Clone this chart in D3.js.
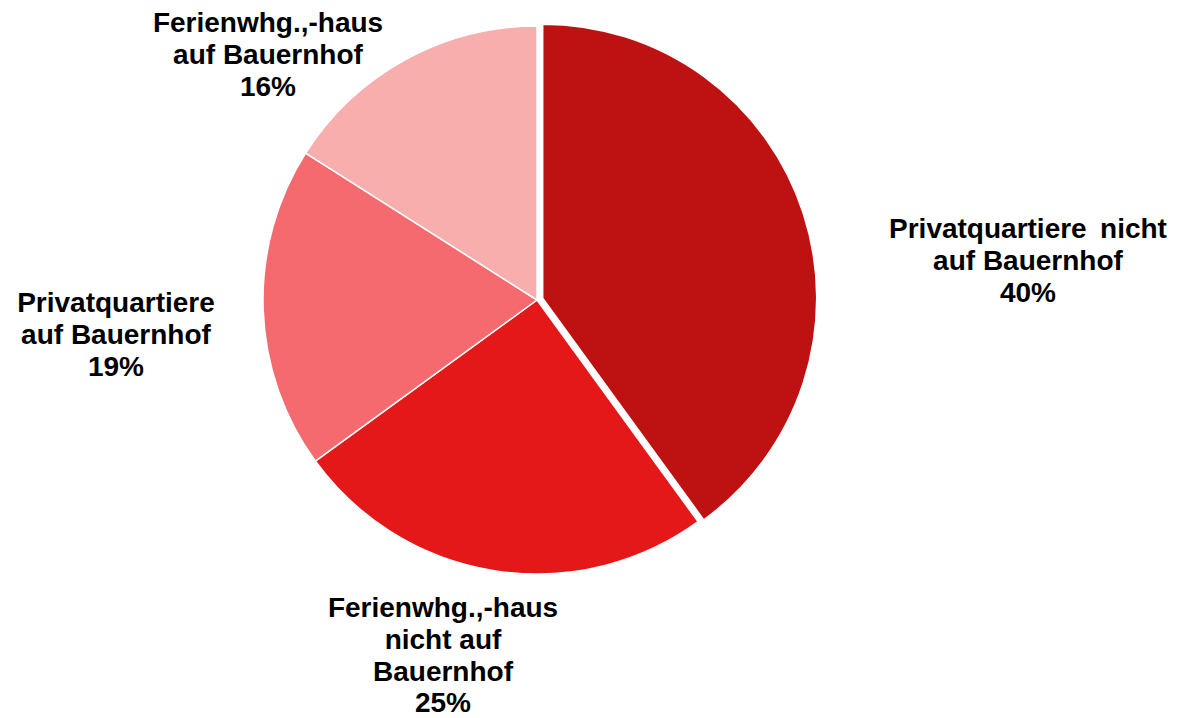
<!DOCTYPE html>
<html>
<head>
<meta charset="utf-8">
<script src="https://cdn.jsdelivr.net/npm/d3@7/dist/d3.min.js"></script>
<style>
  html, body { margin: 0; padding: 0; background: #ffffff; }
  svg { display: block; }
  .lbl { font-family: "Liberation Sans", Arial, sans-serif; font-weight: bold; font-size: 28px; fill: #000; }
</style>
</head>
<body>
<svg id="chart" width="1178" height="718"></svg>
<script>
// Accommodation types and their shares (percent)
const categories = [
  ["Privatquartiere\u2009 nicht", "auf Bauernhof"],
  ["Ferienwhg.,-haus", "nicht auf", "Bauernhof"],
  ["Privatquartiere", "auf Bauernhof"],
  ["Ferienwhg.,-haus", "auf Bauernhof"]
];
const shares = [40, 25, 19, 16];
const sliceColors = ["#BE1111", "#E41818", "#F46A6E", "#F7AEAD"];
// Label anchor (line centre x, first baseline y) for each slice
const labelX = [1028, 443, 116, 268];
const labelY = [238, 617, 312, 32];

const width = 1178, height = 718;
const cx = 537, cy = 300, radius = 274;
const explode = [6, 0, 0, 0];
const lineStep = 31.8;

const svg = d3.select("#chart");
const g = svg.append("g").attr("transform", `translate(${cx},${cy})`);

const pie = d3.pie().sort(null).value(d => d);
const arcs = pie(shares);
const arc = d3.arc().innerRadius(0).outerRadius(radius);

g.selectAll("path.slice")
  .data(arcs)
  .join("path")
  .attr("class", "slice")
  .attr("d", arc)
  .attr("fill", (d, i) => sliceColors[i])
  .attr("stroke", "#ffffff")
  .attr("stroke-width", 1.5)
  .attr("stroke-linejoin", "round")
  .attr("transform", (d, i) => {
    const a = (d.startAngle + d.endAngle) / 2;
    return `translate(${Math.sin(a) * explode[i]},${-Math.cos(a) * explode[i]})`;
  });

// Category name lines followed by the percentage
const labels = svg.selectAll("text.lbl")
  .data(arcs)
  .join("text")
  .attr("class", "lbl")
  .attr("text-anchor", "middle");

labels.each(function (d, i) {
  const lines = categories[i].concat([d3.format(".0f")(d.value) + "%"]);
  d3.select(this).selectAll("tspan")
    .data(lines)
    .join("tspan")
    .attr("x", labelX[i])
    .attr("y", (t, k) => labelY[i] + k * lineStep)
    .text(t => t);
});
</script>
</body>
</html>
